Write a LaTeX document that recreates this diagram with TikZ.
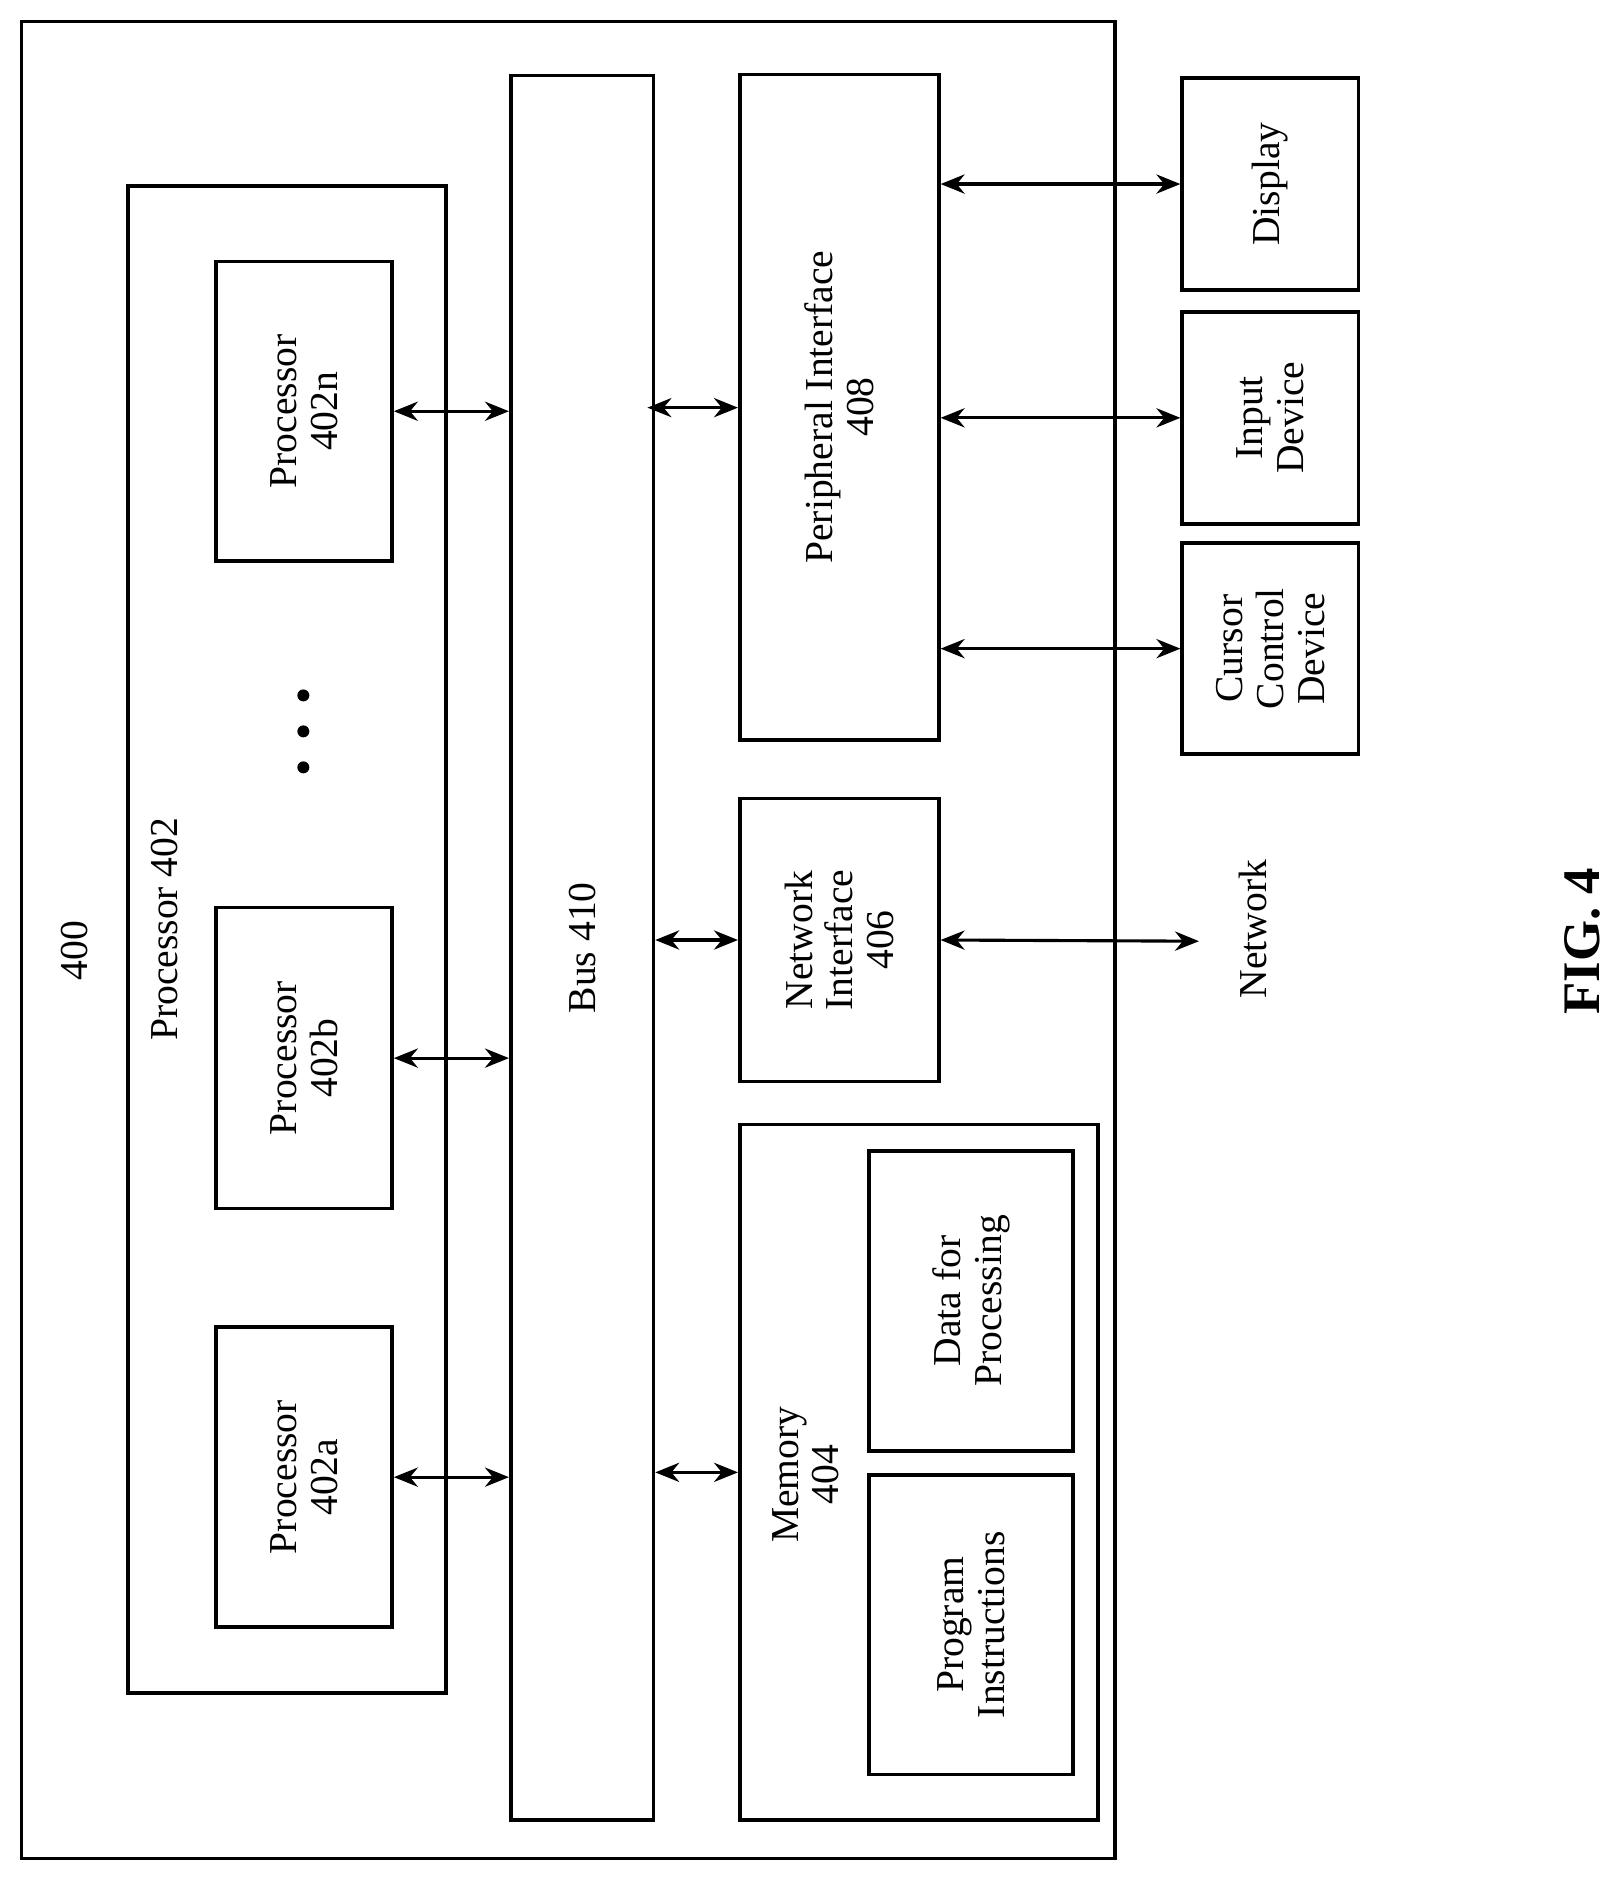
\documentclass[tikz,border=0pt]{standalone}
\usepackage{fontspec}
\setmainfont{Liberation Serif}
\usetikzlibrary{arrows.meta}
\begin{document}
\begin{tikzpicture}[x=1pt,y=-1pt,
 box/.style={draw,line width=3pt,inner sep=0pt},
 lab/.style={rotate=90,align=center,font=\fontsize{33}{34}\selectfont,inner sep=0pt},
 arr/.style={{Stealth[length=20pt,width=16pt]}-{Stealth[length=20pt,width=16pt]},line width=2.6pt}]
\useasboundingbox (0,0) rectangle (1354,1568);
\newcommand{\bx}[5]{\node[box,minimum width=#4-#2,minimum height=#5-#3] (#1) at ({(#2+#4)/2},{(#3+#5)/2}) {};}
\bx{outer}{18}{18}{930}{1550}
\bx{pgrp}{107}{155}{372}{1412}
\bx{pn}{180}{218}{327}{468}
\bx{pb}{180}{757}{327}{1008}
\bx{pa}{180}{1107}{327}{1357}
\bx{bus}{426}{63}{545}{1518}
\bx{per}{617}{62}{783}{617}
\bx{ni}{617}{666}{783}{902}
\bx{mem}{617}{938}{916}{1518}
\bx{data}{725}{960}{895}{1210}
\bx{prog}{725}{1230}{895}{1480}
\bx{disp}{986}{65}{1133}{242}
\bx{inp}{986}{260}{1133}{437}
\bx{cur}{986}{453}{1133}{629}
\node[lab] (t400) at (62,793) {400};
\node[lab] (tpg) at (137,775) {Processor 402};
\node[lab] at (pn) {Processor\\402n};
\node[lab] at (pb) {Processor\\402b};
\node[lab] at (pa) {Processor\\402a};
\foreach \yy/\nm in {580/d1,610/d2,640/d3} \fill (253,\yy) circle (5) coordinate (\nm);
\node[lab] at (bus) {Bus 410};
\node[lab] at (per) {Peripheral Interface\\408};
\node[lab] at (ni) {Network\\Interface\\406};
\node[lab] (tmem) at (672,1230) {Memory\\404};
\node[lab] at (data) {Data for\\Processing};
\node[lab] at (prog) {Program\\Instructions};
\node[lab] at (disp) {Display};
\node[lab] at (inp) {Input\\Device};
\node[lab] at (cur) {Cursor\\Control\\Device};
\node[lab] (net) at (1045,775) {Network};
\node[lab,font=\bfseries\fontsize{44}{46}\selectfont] (fig) at (1320,785) {FIG. 4};
\coordinate (netend) at (1000,785);
\coordinate (bp) at (540,340);
\foreach \p in {pn,pb,pa} \draw[arr] (\p.east) -- (\p.east -| bus.west);
\draw[arr] (bp) -- (bp -| per.west);
\draw[arr] (bus.east |- ni.west) -- (ni.west);
\draw[arr] (bus.east |- mem.west) -- (mem.west);
\foreach \d in {disp,inp,cur} \draw[arr] (per.east |- \d.west) -- (\d.west);
\draw[arr] (ni.east) -- (netend);
\end{tikzpicture}
\end{document}
